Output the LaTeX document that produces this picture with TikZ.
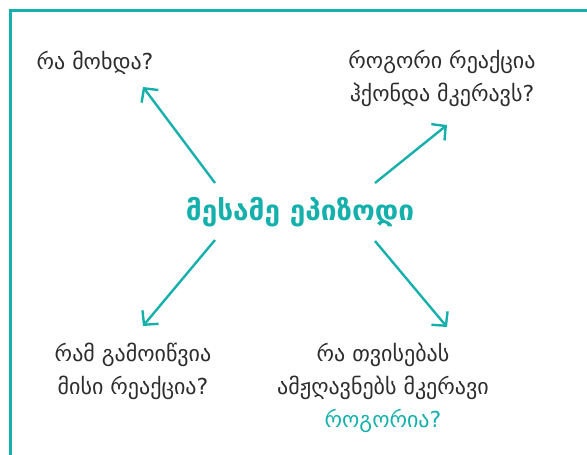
\documentclass[tikz,border=0pt]{standalone}
\usepackage{fontspec}
\setmainfont{DejaVu Sans}
\usetikzlibrary{arrows.meta}

\definecolor{tealline}{RGB}{22,176,172}
\definecolor{darktext}{RGB}{45,45,45}

\begin{document}
\begin{tikzpicture}[
    x=1pt, y=-1pt,
    question/.style={text=darktext, align=center, font=\fontsize{22}{33}\selectfont},
    title/.style={text=tealline, font=\fontsize{28}{34}\selectfont\bfseries},
    arrow/.style={-{Straight Barb[length=10pt, width=21pt]}, line width=2.4pt, draw=tealline}
]
\useasboundingbox (0,0) rectangle (587,455);
\draw[tealline, line width=2.6pt] (10.5,455) |- (587,10.5);

\node[title] (episode) at (300,212) {მესამე ეპიზოდი};

\node[question] (what) at (95,63) {რა მოხდა?};
\node[question] (reaction) at (442,78) {როგორი რეაქცია\\ჰქონდა მკერავს?};
\node[question] (cause) at (133,371) {რამ გამოიწვია\\მისი რეაქცია?};
\node[question] (trait) at (383,388) {რა თვისებას\\ამჟღავნებს მკერავი\\\textcolor{tealline}{როგორია?}};

\coordinate (tl) at (215,183);
\coordinate (tr) at (375,183);
\coordinate (bl) at (215,240);
\coordinate (br) at (375,241);
\coordinate (whatend) at (143,87);
\coordinate (reactionend) at (447,125);
\coordinate (causeend) at (143,326);
\coordinate (traitend) at (447,327);

\draw[arrow] (tl) -- (whatend);
\draw[arrow] (tr) -- (reactionend);
\draw[arrow] (bl) -- (causeend);
\draw[arrow] (br) -- (traitend);
\end{tikzpicture}
\end{document}
